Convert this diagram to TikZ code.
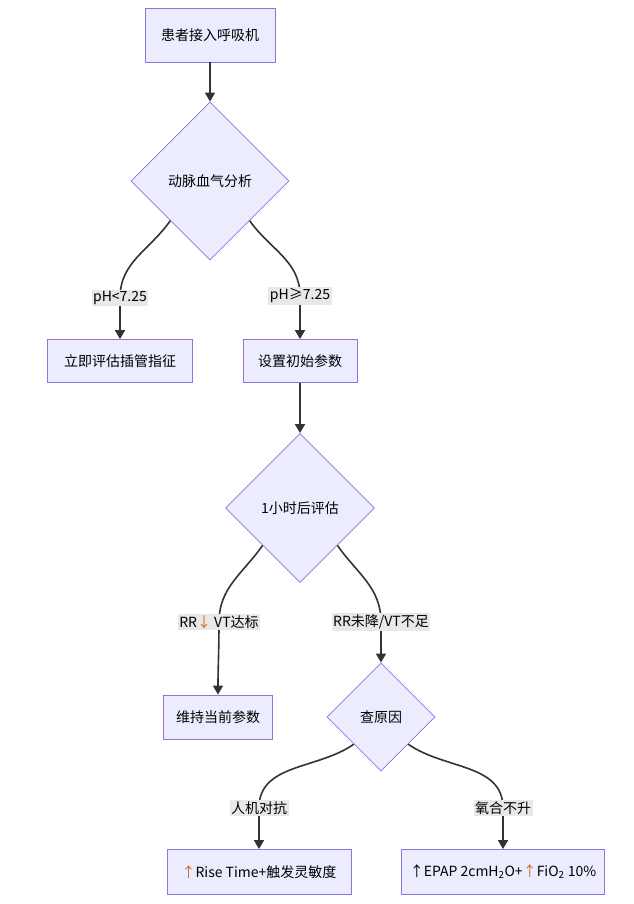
\documentclass[tikz,border=0pt]{standalone}
\usepackage{fontspec}
\setmainfont{Noto Sans CJK SC}
\usetikzlibrary{shapes.geometric,arrows.meta}
\definecolor{nf}{HTML}{ECECFF}
\definecolor{nd}{HTML}{9370DB}
\definecolor{lf}{HTML}{E8E8E8}
\definecolor{ln}{HTML}{333333}
\definecolor{og}{HTML}{D2691E}
\begin{document}
\begin{tikzpicture}[x=1pt,y=-1pt,
  every node/.style={font=\fontsize{14}{16}\selectfont},
  box/.style={draw=nd,fill=nf,line width=0.8pt,inner sep=0pt},
  dia/.style={diamond,draw=nd,fill=nf,line width=0.8pt,inner sep=0pt,aspect=1},
  lab/.style={fill=lf,inner sep=1.5pt},
  arr/.style={draw=ln,line width=1.6pt,-{Triangle[length=9pt,width=10pt]}}]
\useasboundingbox (0,0) rectangle (633,904);
\node[box,minimum width=130,minimum height=54] (n1) at (210,35) {患者接入呼吸机};
\node[dia,minimum size=158] (d1) at (210,181) {动脉血气分析};
\node[box,minimum width=145,minimum height=43] (b1) at (120,361) {立即评估插管指征};
\node[box,minimum width=114,minimum height=43] (b2) at (300,361) {设置初始参数};
\node[dia,minimum size=149] (d2) at (300,508) {1小时后评估};
\node[box,minimum width=109,minimum height=44] (b3) at (218,717) {维持当前参数};
\node[dia,minimum size=108] (d3) at (381,717) {查原因};
\node[box,minimum width=184,minimum height=45] (b4) at (259,872) {\textcolor{og}{↑}Rise Time+触发灵敏度};
\node[box,minimum width=203,minimum height=45] (b5) at (503,872) {\raisebox{3pt}{↑EPAP 2cmH\textsubscript{2}O+\textcolor{og}{↑}FiO\textsubscript{2} 10\%}};
\coordinate (l1c) at (120,298);
\coordinate (l2c) at (300,296);
\coordinate (l3c) at (219,622);
\coordinate (l4c) at (381,622);
\coordinate (l5c) at (259,808);
\coordinate (l6c) at (503,808);
\draw[arr] (n1) -- (d1);
\draw[arr] (d1.south west) to[out=-125,in=90] (l1c) to[out=-90,in=90] (b1.north);
\draw[arr] (d1.south east) to[out=-55,in=90] (l2c) to[out=-90,in=90] (b2.north);
\draw[arr] (b2) -- (d2);
\draw[arr] (d2.south west) to[out=-125,in=90] (l3c) to[out=-90,in=90] (b3.north);
\draw[arr] (d2.south east) to[out=-55,in=90] (l4c) to[out=-90,in=90] (d3.north);
\draw[arr] (d3.south west) to[out=-145,in=90] (l5c) to[out=-90,in=90] (b4.north);
\draw[arr] (d3.south east) to[out=-35,in=90] (l6c) to[out=-90,in=90] (b5.north);
\node[lab] (l1) at (l1c) {pH<7.25};
\node[lab] (l2) at (l2c) {pH≥7.25};
\node[lab] (l3) at (l3c) {RR\textcolor{og}{↓} VT达标};
\node[lab] (l4) at (l4c) {RR未降/VT不足};
\node[lab] (l5) at (l5c) {人机对抗};
\node[lab] (l6) at (l6c) {氧合不升};
\end{tikzpicture}
\end{document}
